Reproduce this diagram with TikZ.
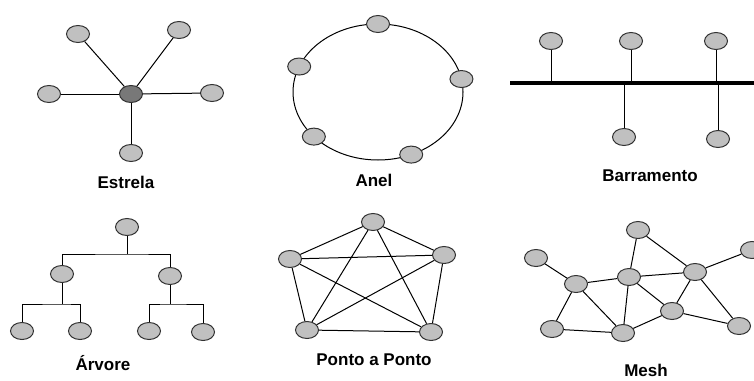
\documentclass[tikz,border=0pt]{standalone}
\usepackage{fontspec}
\setmainfont{Liberation Sans}
\usepackage{tikz}
\usetikzlibrary{calc,shapes.geometric}
\definecolor{hostfill}{RGB}{192,192,192}
\definecolor{hubfill}{RGB}{120,120,120}
\definecolor{hostline}{RGB}{50,50,50}

\begin{document}
\begin{tikzpicture}[x=1pt,y=-1pt,line width=1pt,
  host/.style={ellipse,draw=hostline,fill=hostfill,minimum width=23pt,minimum height=17pt,inner sep=0pt},
  hub/.style={host,fill=hubfill},
  caption/.style={font=\bfseries\fontsize{17}{20}\selectfont,inner sep=0pt}]
  \useasboundingbox (0,0) rectangle (754,380);
  % Estrela
  \node[hub] (s0) at (131,94) {};
  \foreach \n/\p in {s1/{(78,34)},s2/{(179,30)},s3/{(49,94)},s4/{(212,93)},s5/{(131,153)}} {
    \node[host] (\n) at \p {};
    \draw (s0) -- (\n);
  }
  \node[caption] (capstar) at (126,182) {Estrela};
  % Anel
  \coordinate (ringc) at (378,92);
  \draw (ringc) ellipse [x radius=85,y radius=68];
  \foreach \a/\n in {-90/r1,202/r2,-11/r3,139/r4,67/r5} { \node[host] (\n) at ($(ringc)+(\a:85 and 68)$) {}; }
  \node[caption] (capring) at (374,180) {Anel};
  % Barramento
  \coordinate (busL) at (510,83);
  \coordinate (busR) at (754,83);
  \draw[line width=4.5pt] (busL) -- (busR);
  \foreach \n/\p in {b1/{(551,41)},b2/{(631,41)},b3/{(716,41)},b4/{(624,137)},b5/{(718,139)}} {
    \node[host] (\n) at \p {};
    \draw (\n) -- (\n |- busL);
  }
  \node[caption] (capbus) at (650,176) {Barramento};
  % Arvore
  \node[host] (t0) at (127,227) {};
  \node[host] (t1) at (62,274) {};
  \node[host] (t2) at (170,276) {};
  \node[host] (t3) at (22,331) {};
  \node[host] (t4) at (80,331) {};
  \node[host] (t5) at (149,331) {};
  \node[host] (t6) at (203,332) {};
  \coordinate (tj0) at (127,254);
  \coordinate (tj1) at (62,304);
  \coordinate (tj2) at (170,304);
  \draw (t0) -- (tj0);
  \draw (t1) |- (tj0) -| (t2);
  \draw (t1) -- (tj1);
  \draw (t3) |- (tj1) -| (t4);
  \draw (t2) -- (tj2);
  \draw (t5) |- (tj2) -| (t6);
  \node[caption] (captree) at (103,363) {Árvore};
  % Ponto a Ponto
  \foreach \n/\p in {p1/{(373,222)},p2/{(290,259)},p3/{(444,255)},p4/{(307,330)},p5/{(431,332)}} { \node[host] (\n) at \p {}; }
  \foreach \u/\v in {p1/p2,p1/p3,p1/p4,p1/p5,p2/p3,p2/p4,p2/p5,p3/p4,p3/p5,p4/p5} { \draw (\u) -- (\v); }
  \node[caption] (capp2p) at (374,360) {Ponto a Ponto};
  % Mesh
  \foreach \n/\p in {m1/{(536,258)},m2/{(576,284)},m3/{(638,230)},m4/{(629,277)},m5/{(695,272)},
                     m6/{(752,250)},m7/{(552,329)},m8/{(623,333)},m9/{(672,311)},m10/{(739,326)}} { \node[host] (\n) at \p {}; }
  \foreach \u/\v in {m1/m2,m2/m4,m2/m7,m2/m8,m7/m8,m3/m4,m3/m5,m4/m5,m4/m8,m4/m9,
                     m5/m9,m5/m6,m5/m10,m8/m9,m9/m10} { \draw (\u) -- (\v); }
  \node[caption] (capmesh) at (646,370) {Mesh};
\end{tikzpicture}
\end{document}
